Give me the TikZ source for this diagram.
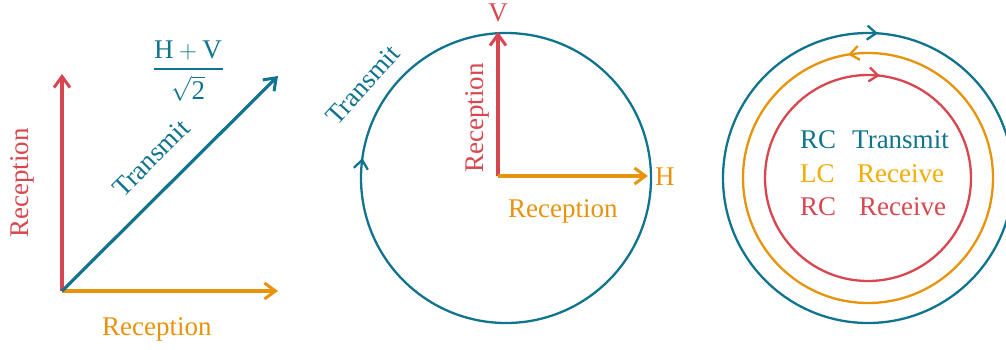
\documentclass[tikz,border=0pt]{standalone}
\usepackage{fontspec}
\setmainfont{Liberation Serif}
\usetikzlibrary{arrows.meta,decorations.markings}
\definecolor{cteal}{HTML}{10748E}
\definecolor{cred}{HTML}{D8474F}
\definecolor{corange}{HTML}{E8930C}
\definecolor{cyellow}{HTML}{F3AC00}
\tikzset{
  vec/.style={line width=3.2pt,-{Straight Barb[length=11pt,width=16pt,line width=3pt]}},
  ring/.style={line width=2.3pt},
  lbl/.style={font=\fontsize{27}{32}\selectfont, inner sep=0pt},
  cwmark/.style={postaction={decorate,decoration={markings,mark=at position #1 with {\arrow{Straight Barb[length=9pt,width=14pt,line width=2.3pt]}}}}},
  ccwmark/.style={postaction={decorate,decoration={markings,mark=at position #1 with {\arrowreversed{Straight Barb[length=9pt,width=14pt,line width=2.3pt]}}}}}
}
\begin{document}
\begin{tikzpicture}[x=1pt,y=-1pt]
\useasboundingbox (0,0) rectangle (1006,349);
% ---------- left panel ----------
\coordinate (O1) at (62,291);
\coordinate (V1) at (62,74);
\coordinate (H1) at (278,291);
\coordinate (D1) at (278,76);
\draw[vec,cred] (O1) -- (V1);
\draw[vec,corange] (O1) -- (H1);
\draw[vec,cteal] (O1) -- (D1);
\node[lbl,cred,rotate=90,anchor=base west] (recL) at (28,238) {Reception};
\node[lbl,corange,anchor=base west] (recB) at (102,335) {Reception};
\node[lbl,cteal,rotate=45] (trL) at (151,158) {Transmit};
% fraction (H+V)/sqrt2
\node[lbl,cteal,anchor=base] (num) at (188,58) {$\mathrm{H}+\mathrm{V}$};
\coordinate (barL) at (154,69);
\coordinate (barR) at (223,69);
\draw[cteal,line width=1.6pt] (barL) -- (barR);
\node[lbl,cteal,anchor=base] (den) at (188,99) {$\sqrt{\mathrm{2}}$};
% ---------- middle panel ----------
\coordinate (C2) at (506,178);
\coordinate (O2) at (498,176);
\coordinate (V2) at (498,32);
\coordinate (H2) at (648,176);
\draw[ring,cteal,cwmark=0.522] (C2) circle (145);
\draw[vec,cred] (O2) -- (V2);
\draw[vec,corange] (O2) -- (H2);
\node[lbl,cred,anchor=base] (Vl) at (498,21) {V};
\node[lbl,corange,anchor=base west] (Hl) at (655,185) {H};
\node[lbl,cred,rotate=90,anchor=base west] (recM) at (483,173) {Reception};
\node[lbl,corange,anchor=base west] (recM2) at (508,217) {Reception};
\node[lbl,cteal,rotate=48] (trM) at (363,85) {Transmit};
% ---------- right panel ----------
\coordinate (C3) at (868,178);
\draw[ring,cteal,cwmark=0.761] (C3) circle (145);
\draw[ring,corange,ccwmark=0.7245] (C3) circle (125);
\draw[ring,cred,cwmark=0.7685] (C3) circle (103);
\node[lbl,cteal,anchor=base west] (t1a) at (800,148) {RC};
\node[lbl,cteal,anchor=base west] (t1b) at (852,148) {Transmit};
\node[lbl,cyellow,anchor=base west] (t2a) at (800,182) {LC};
\node[lbl,cyellow,anchor=base west] (t2b) at (857,182) {Receive};
\node[lbl,cred,anchor=base west] (t3a) at (800,215) {RC};
\node[lbl,cred,anchor=base west] (t3b) at (859,215) {Receive};
\end{tikzpicture}
\end{document}
